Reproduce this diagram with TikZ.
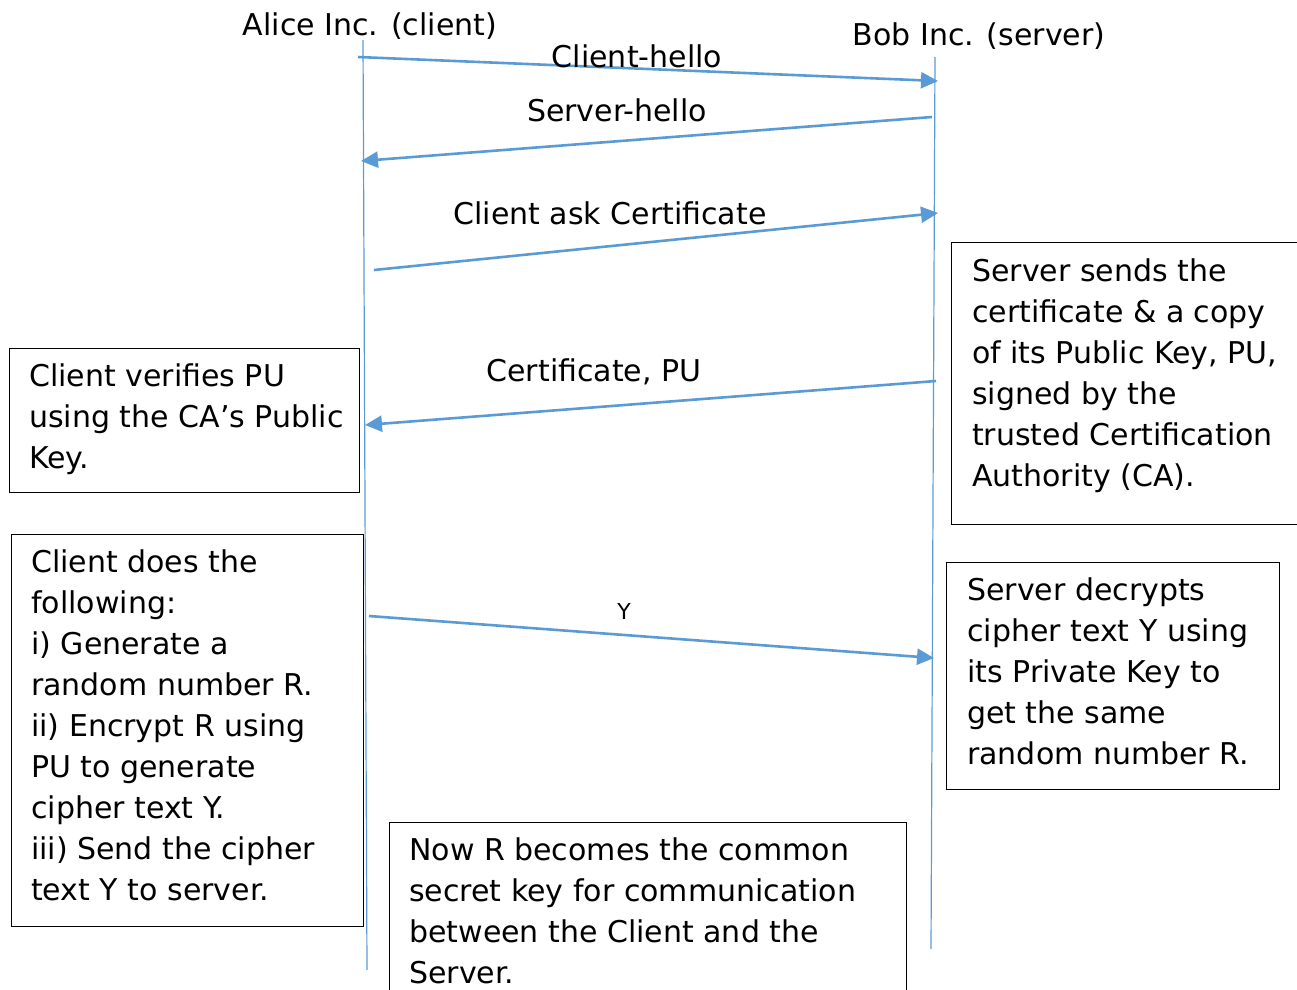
\documentclass[tikz,border=0pt]{standalone}
\usepackage{fontspec}
\setmainfont{DejaVu Sans}
\usetikzlibrary{arrows.meta}
\definecolor{msgblue}{HTML}{5B9BD5}
\tikzset{
    every node/.style={font=\fontsize{30}{41}\selectfont},
    life/.style={draw=msgblue, line width=1.2pt},
    msg/.style={draw=msgblue, line width=2.6pt, -{Triangle[length=17pt,width=16pt]}},
    frame/.style={draw, line width=1.2pt, anchor=north west, inner sep=0pt},
    note/.style={align=left, anchor=north west, inner sep=0pt},
    tag/.style={inner sep=0pt}
}
\begin{document}
\begin{tikzpicture}[x=1pt,y=-1pt]
    \useasboundingbox (0,0) rectangle (1297,989);
    % lifelines
    \coordinate (alice top) at (363,40);
    \coordinate (alice bot) at (367,970);
    \coordinate (bob top) at (935,57);
    \coordinate (bob bot) at (931,949);
    \draw[life] (alice top) -- (alice bot);
    \draw[life] (bob top) -- (bob bot);
    \node[tag] (alice) at (370,26) {Alice Inc. (client)};
    \node[tag] (bob) at (979,36) {Bob Inc. (server)};

    % messages
    \coordinate (m1a) at (358,57);   \coordinate (m1b) at (938,81);
    \coordinate (m2a) at (932,117);  \coordinate (m2b) at (361,161);
    \coordinate (m3a) at (374,270);  \coordinate (m3b) at (938,213);
    \coordinate (m4a) at (936,381);  \coordinate (m4b) at (365,425);
    \coordinate (m5a) at (369,616);  \coordinate (m5b) at (934,658);
    \draw[msg] (m1a) -- (m1b);
    \draw[msg] (m2a) -- (m2b);
    \draw[msg] (m3a) -- (m3b);
    \draw[msg] (m4a) -- (m4b);
    \draw[msg] (m5a) -- (m5b);
    \node[tag] (hello c) at (637,56) {Client-hello};
    \node[tag] (hello s) at (617,110) {Server-hello};
    \node[tag] (ask) at (610,213) {Client ask Certificate};
    \node[tag] (cert) at (594,372) {Certificate, PU};
    \node[tag, font=\fontsize{22}{26}\selectfont] (y) at (624,611) {Y};

    % boxes
    \node[frame, minimum width=350pt, minimum height=144pt] (verify) at (9,348) {};
    \node[frame, minimum width=346pt, minimum height=282pt] (sends) at (951,242) {};
    \node[frame, minimum width=352pt, minimum height=392pt] (does) at (11,534) {};
    \node[frame, minimum width=333pt, minimum height=227pt] (decrypt) at (946,562) {};
    \node[frame, minimum width=517pt, minimum height=200pt] (common) at (389,822) {};

    \node[note] (verify text) at (29,363) {Client verifies PU\\using the CA’s Public\\Key.};
    \node[note] (sends text) at (972,258) {Server sends the\\certificate \& a copy\\of its Public Key, PU,\\signed by the\\trusted Certification\\Authority (CA).};
    \node[note] (does text) at (31,549) {Client does the\\following:\\i) Generate a\\random number R.\\ii) Encrypt R using\\PU to generate\\cipher text Y.\\iii) Send the cipher\\text Y to server.};
    \node[note] (decrypt text) at (967,577) {Server decrypts\\cipher text Y using\\its Private Key to\\get the same\\random number R.};
    \node[note] (common text) at (409,837) {Now R becomes the common\\secret key for communication\\between the Client and the\\Server.};
\end{tikzpicture}
\end{document}
